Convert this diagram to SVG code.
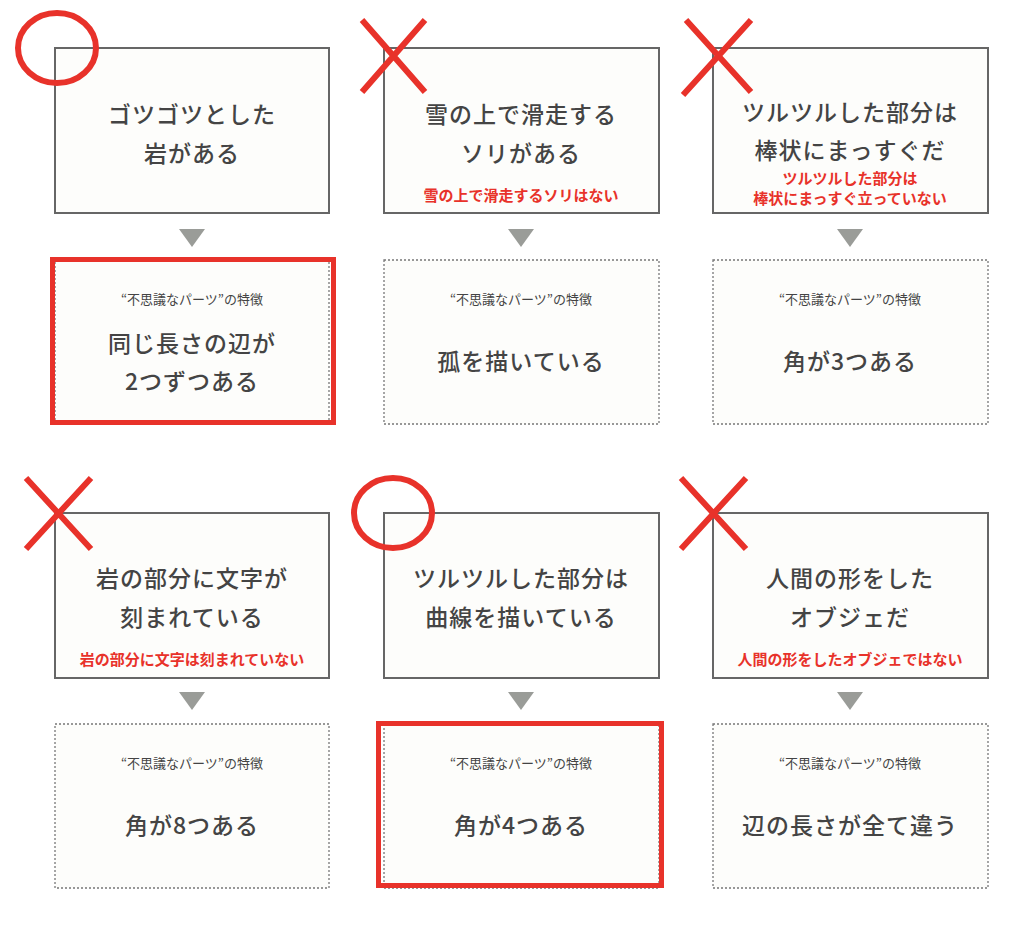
<svg xmlns="http://www.w3.org/2000/svg" width="1014" height="930" viewBox="0 0 1014 930">
<style>
.top{fill:#fdfdfb;stroke:#666;stroke-width:2}
.bot{fill:#fdfdfb;stroke:#777;stroke-width:1.3;stroke-dasharray:2 2}
.hl{fill:none;stroke:#e8322a;stroke-width:5}
.mk{fill:none;stroke:#e8322a;stroke-width:6}
.tri{fill:#9a9c98}
text{font-family:"Noto Sans CJK JP","Noto Sans",sans-serif;text-anchor:middle}
.m{font-size:23px;fill:#444;font-weight:500;letter-spacing:1px}
.r{font-size:15px;fill:#e8322a;font-weight:700}
.s{font-size:13px;fill:#444}
</style>
<rect width="1014" height="930" fill="#fff"/>
<g id="connectors">
<polygon class="tri" points="179,229 205,229 192,247"/>
<polygon class="tri" points="508,229 534,229 521,247"/>
<polygon class="tri" points="837,229 863,229 850,247"/>
<polygon class="tri" points="179,692 205,692 192,710"/>
<polygon class="tri" points="508,692 534,692 521,710"/>
<polygon class="tri" points="837,692 863,692 850,710"/>
</g>
<g id="n1"><rect class="top" x="55" y="48" width="274" height="165"/><text class="m" x="192" y="123">ゴツゴツとした</text><text class="m" x="192" y="162">岩がある</text></g>
<g id="n2"><rect class="top" x="384" y="48" width="275" height="165"/><text class="m" x="521" y="123">雪の上で滑走する</text><text class="m" x="521" y="162">ソリがある</text><text class="r" x="521" y="201">雪の上で滑走するソリはない</text></g>
<g id="n3"><rect class="top" x="713" y="48" width="275" height="165"/><text class="m" x="850" y="121">ツルツルした部分は</text><text class="m" x="850" y="159">棒状にまっすぐだ</text><text class="r" x="850" y="184">ツルツルした部分は</text><text class="r" x="850" y="204">棒状にまっすぐ立っていない</text></g>
<g id="n4"><rect class="bot" x="55" y="260" width="274" height="164"/><text class="s" x="192" y="304">“不思議なパーツ”の特徴</text><text class="m" x="192" y="352">同じ長さの辺が</text><text class="m" x="192" y="390">2つずつある</text></g>
<g id="n5"><rect class="bot" x="384" y="260" width="275" height="164"/><text class="s" x="521" y="304">“不思議なパーツ”の特徴</text><text class="m" x="521" y="370">孤を描いている</text></g>
<g id="n6"><rect class="bot" x="713" y="260" width="275" height="164"/><text class="s" x="850" y="304">“不思議なパーツ”の特徴</text><text class="m" x="850" y="370">角が3つある</text></g>
<g id="n7"><rect class="top" x="55" y="513" width="274" height="165"/><text class="m" x="192" y="587">岩の部分に文字が</text><text class="m" x="192" y="626">刻まれている</text><text class="r" x="192" y="665">岩の部分に文字は刻まれていない</text></g>
<g id="n8"><rect class="top" x="384" y="513" width="275" height="165"/><text class="m" x="521" y="587">ツルツルした部分は</text><text class="m" x="521" y="626">曲線を描いている</text></g>
<g id="n9"><rect class="top" x="713" y="513" width="275" height="165"/><text class="m" x="850" y="587">人間の形をした</text><text class="m" x="850" y="626">オブジェだ</text><text class="r" x="850" y="665">人間の形をしたオブジェではない</text></g>
<g id="n10"><rect class="bot" x="55" y="724" width="274" height="164"/><text class="s" x="192" y="768">“不思議なパーツ”の特徴</text><text class="m" x="192" y="834">角が8つある</text></g>
<g id="n11"><rect class="bot" x="384" y="724" width="275" height="164"/><text class="s" x="521" y="768">“不思議なパーツ”の特徴</text><text class="m" x="521" y="834">角が4つある</text></g>
<g id="n12"><rect class="bot" x="713" y="724" width="275" height="164"/><text class="s" x="850" y="768">“不思議なパーツ”の特徴</text><text class="m" x="850" y="834">辺の長さが全て違う</text></g>
<g id="marks">
<rect class="hl" x="52.5" y="259.5" width="281" height="163"/>
<rect class="hl" x="378.5" y="723.5" width="283" height="162"/>
<ellipse class="mk" cx="57" cy="48" rx="39" ry="35"/>
<ellipse class="mk" cx="393" cy="513" rx="39" ry="35"/>
<path class="mk" d="M362,20 L425,92 M425,20 L362,92"/>
<path class="mk" d="M686,20 L751,92 M751,20 L683,95"/>
<path class="mk" d="M26,478 L91,549 M91,478 L26,549"/>
<path class="mk" d="M681,478 L746,549 M746,478 L681,549"/>
</g>
</svg>
